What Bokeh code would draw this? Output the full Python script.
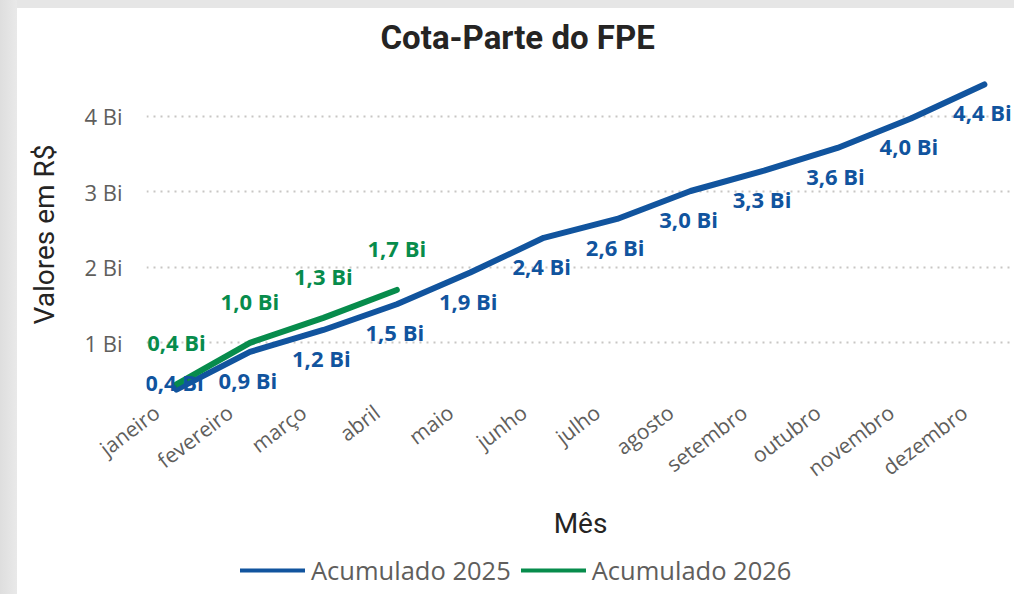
from bokeh.plotting import figure
from bokeh.layouts import column
from bokeh.models import (Range1d, FixedTicker, ColumnDataSource, Legend, LegendItem)
from bokeh.core.properties import value
from bokeh.embed import file_html
from bokeh.resources import INLINE

# ---- data ----
months = ["janeiro", "fevereiro", "março", "abril", "maio", "junho", "julho",
          "agosto", "setembro", "outubro", "novembro", "dezembro"]
acum_2025 = [0.38, 0.88, 1.17, 1.51, 1.93, 2.39, 2.64, 3.01, 3.28, 3.58, 3.97, 4.42]
acum_2026 = [0.45, 1.00, 1.33, 1.70]
labels_2025 = ["0,4 Bi", "0,9 Bi", "1,2 Bi", "1,5 Bi", "1,9 Bi", "2,4 Bi", "2,6 Bi",
               "3,0 Bi", "3,3 Bi", "3,6 Bi", "4,0 Bi", "4,4 Bi"]
labels_2026 = ["0,4 Bi", "1,0 Bi", "1,3 Bi", "1,7 Bi"]
y_ticks = [1, 2, 3, 4]
y_tick_labels = ["1 Bi", "2 Bi", "3 Bi", "4 Bi"]
series_names = ["Acumulado 2025", "Acumulado 2026"]

BLUE = "#11549E"
GREEN = "#078C4C"
GREY = "#605E5C"
DARK = "#252423"
CARD_BG_TOP = ("linear-gradient(to right, #dedede, #e9e9e9) 0 0/17px 100% no-repeat, "
               "linear-gradient(#e6e6e6, #e6e6e6) 0 0/100% 8px no-repeat, #ffffff")
CARD_BG = "linear-gradient(to right, #dedede, #e9e9e9) 0 0/17px 100% no-repeat, #ffffff"

p = figure(width=1014, height=546, output_backend="svg", toolbar_location=None,
           x_range=Range1d(-0.408, 11.41), y_range=Range1d(0.276, 4.592),
           min_border_left=146, min_border_right=0, min_border_top=69,
           min_border_bottom=149, outline_line_color=None,
           background_fill_color="white", border_fill_color=None,
           styles={"background": CARD_BG_TOP})

p.title.text = "Cota-Parte do FPE"
p.title.text_font = "Roboto"
p.title.text_font_style = "bold"
p.title.text_font_size = "33px"
p.title.text_color = DARK
p.title.align = "left"
p.title.offset = 234
p.title.standoff = 30

x1 = list(range(len(acum_2025)))
x2 = list(range(len(acum_2026)))
src1 = ColumnDataSource(dict(x=x1, y=acum_2025, t=labels_2025,
                             off=[-8 if i == 0 else 28 for i in x1]))
src2 = ColumnDataSource(dict(x=x2, y=acum_2026, t=labels_2026))

r1 = p.line("x", "y", source=src1, line_color=BLUE, line_width=6, line_cap="round", line_join="round")
r2 = p.line("x", "y", source=src2, line_color=GREEN, line_width=6, line_cap="round", line_join="round")

p.text("x", "y", text="t", source=src1, y_offset="off", x_offset=-2,
       text_font=value("Open Sans"), text_font_style="bold", text_font_size="22px",
       text_color=BLUE, text_align="center", text_baseline="middle")
p.text("x", "y", text="t", source=src2, y_offset=-42, x_offset=0,
       text_font=value("Open Sans"), text_font_style="bold", text_font_size="22px",
       text_color=GREEN, text_align="center", text_baseline="middle")

# axes (month labels sit slightly left of their point, as in the reference)
label_shift = 0.27
x_tick_pos = [i - label_shift for i in x1]
p.xaxis.ticker = FixedTicker(ticks=x_tick_pos)
p.xaxis.major_label_overrides = {t: m for t, m in zip(x_tick_pos, months)}
p.xaxis.major_label_orientation = 0.65
p.yaxis.ticker = FixedTicker(ticks=y_ticks)
p.yaxis.major_label_overrides = {t: l for t, l in zip(y_ticks, y_tick_labels)}
for ax in (p.xaxis, p.yaxis):
    ax.axis_line_color = None
    ax.major_tick_line_color = None
    ax.minor_tick_line_color = None
    ax.major_label_text_font = "Open Sans"
    ax.major_label_text_font_size = "21px"
    ax.major_label_text_color = GREY
    ax.axis_label_text_font = "Roboto"
    ax.axis_label_text_font_style = "normal"
    ax.axis_label_text_font_size = "28px"
    ax.axis_label_text_color = DARK
p.yaxis.major_label_text_font_size = "22px"
p.xaxis.axis_label = "Mês"
p.yaxis.axis_label = "Valores em R$"
p.yaxis.major_label_standoff = 18
p.xaxis.major_label_standoff = 6
p.yaxis.axis_label_standoff = 20
p.xaxis.axis_label_standoff = 11

p.xgrid.grid_line_color = None
p.ygrid.grid_line_color = "#C8C6C4"
p.ygrid.grid_line_width = 2
p.ygrid.grid_line_dash = "2 5"

# ---- legend strip below the chart ----
q = figure(width=1014, height=48, output_backend="svg", toolbar_location=None,
           x_range=Range1d(100, 101), y_range=Range1d(100, 101), min_border=0,
           min_border_left=0, min_border_right=0, min_border_top=0, min_border_bottom=0,
           x_axis_location=None, y_axis_location=None, outline_line_color=None,
           background_fill_color="white", border_fill_color=None,
           styles={"background": CARD_BG})
q.xgrid.grid_line_color = None
q.ygrid.grid_line_color = None
l1 = q.line("x", "y", source=src1, line_color=BLUE, line_width=4, line_cap="round")
l2 = q.line("x", "y", source=src2, line_color=GREEN, line_width=4, line_cap="round")
legend = Legend(items=[LegendItem(label=series_names[0], renderers=[l1]),
                       LegendItem(label=series_names[1], renderers=[l2])],
                location=(94, 7), orientation="horizontal",
                glyph_width=65, glyph_height=30, label_height=30,
                label_standoff=6, spacing=10,
                padding=0, margin=0, border_line_color=None,
                background_fill_alpha=0,
                label_text_font="Open Sans", label_text_font_size="25.5px",
                label_text_color=GREY)
q.add_layout(legend, "center")

layout = column(p, q, spacing=0)
html = file_html(layout, INLINE)
open("out.html", "w").write(html)
